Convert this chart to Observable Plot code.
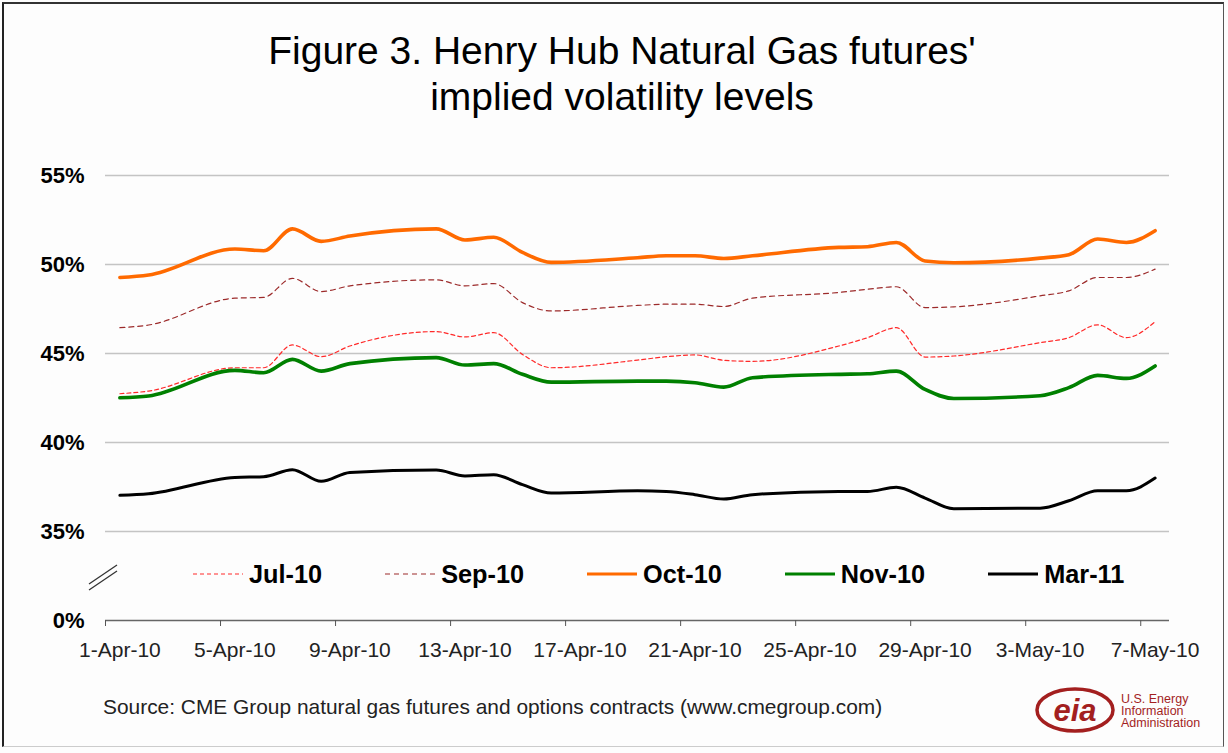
<!DOCTYPE html>
<html>
<head>
<meta charset="utf-8">
<script src="https://cdn.jsdelivr.net/npm/d3@7"></script>
<script src="https://cdn.jsdelivr.net/npm/@observablehq/plot@0.6"></script>
<style>
  body { margin: 0; background: #fff; font-family: "Liberation Sans", Arial, sans-serif; }
  #wrap { position: relative; width: 1228px; height: 753px; background: #fdfdfd; overflow: hidden; }
  #frame { position: absolute; left: 2px; top: 2px; width: 1219px; height: 742px;
           border-left: 2px solid #222; border-top: 2px solid #333; border-right: 1px solid #555; border-bottom: 1px solid #ccc; }
  #chart { position: absolute; left: 0; top: 0; }
  #title { position: absolute; left: 8px; top: 28px; width: 1228px; text-align: center;
           font-size: 39px; line-height: 46px; color: #000; }
  #legend { position: absolute; left: 193px; top: 559px; display: flex; gap: 63px; align-items: center; }
  .item { display: flex; align-items: center; gap: 6px; font-weight: bold; font-size: 25.3px; line-height: 30px; color: #000; }
  #source { position: absolute; left: 103px; top: 695px; font-size: 20.9px; line-height: 24px; color: #222; }
  .overlay { position: absolute; left: 0; top: 0; pointer-events: none; }
  svg [aria-label="y-axis tick label"] text { font-weight: bold; }
</style>
</head>
<body>
<div id="wrap">
  <div id="frame"></div>
  <div id="chart"></div>
  <div id="title">Figure 3. Henry Hub Natural Gas futures'<br>implied volatility levels</div>
  <div id="legend"></div>
  <div id="source">Source: CME Group natural gas futures and options contracts (www.cmegroup.com)</div>
  <svg class="overlay" width="1228" height="753">
    <g stroke="#333" stroke-width="1.3">
      <line x1="89" y1="584" x2="117" y2="565"></line>
      <line x1="89" y1="590" x2="117" y2="571"></line>
    </g>
    <g>
      <ellipse cx="1075" cy="710" rx="38" ry="21" fill="none" stroke="#a31f1f" stroke-width="3.5"></ellipse>
      <text x="1075" y="721" text-anchor="middle" font-family="Liberation Sans, Arial" font-weight="bold" font-style="italic" font-size="31" fill="#a31f1f">eia</text>
      <g font-family="Liberation Sans, Arial" font-size="12.5" fill="#a31f1f">
        <text x="1121" y="703">U.S. Energy</text>
        <text x="1121" y="715">Information</text>
        <text x="1121" y="727">Administration</text>
      </g>
    </g>
  </svg>
</div>
<script>
// ---- Data ----
const dates = ["2010-04-01","2010-04-02","2010-04-05","2010-04-06","2010-04-07","2010-04-08","2010-04-09",
  "2010-04-12","2010-04-13","2010-04-14","2010-04-15","2010-04-16",
  "2010-04-19","2010-04-20","2010-04-21","2010-04-22","2010-04-23",
  "2010-04-26","2010-04-27","2010-04-28","2010-04-29","2010-04-30",
  "2010-05-03","2010-05-04","2010-05-05","2010-05-06","2010-05-07"];

const jul10 = [42.74,42.89,44.20,44.20,45.48,44.82,45.42, 46.23,45.93,46.17,44.95,44.20, 44.63,44.82,44.92,44.62,44.56, 45.42,45.89,46.45,44.80,44.86, 45.61,45.89,46.61,45.89,46.79];
const sep10 = [46.45,46.60,48.11,48.15,49.22,48.48,48.80, 49.14,48.80,48.93,47.86,47.39, 47.70,47.77,47.77,47.64,48.11, 48.43,48.61,48.75,47.58,47.62, 48.24,48.52,49.27,49.27,49.74];
const oct10 = [49.27,49.41,50.87,50.77,52.00,51.30,51.60, 52.00,51.38,51.53,50.68,50.12, 50.38,50.49,50.49,50.34,50.49, 50.96,51.00,51.24,50.20,50.10, 50.36,50.55,51.43,51.24,51.90];
const nov10 = [42.51,42.61,44.05,43.92,44.67,44.01,44.43, 44.77,44.35,44.43,43.83,43.39, 43.45,43.45,43.36,43.11,43.64, 43.83,43.86,44.01,42.98,42.47, 42.63,43.08,43.77,43.60,44.30];
const mar11 = [37.03,37.12,38.04,38.08,38.47,37.82,38.32, 38.45,38.12,38.19,37.63,37.16, 37.29,37.25,37.07,36.82,37.07, 37.25,37.25,37.48,36.88,36.28, 36.31,36.73,37.29,37.29,38.00];

const seriesNames = ["Jul-10","Sep-10","Oct-10","Nov-10","Mar-11"];
const seriesValues = [jul10, sep10, oct10, nov10, mar11];

const yTicks = [30, 35, 40, 45, 50, 55];
const yTickLabels = ["0%", "35%", "40%", "45%", "50%", "55%"];
const xTickDates = ["2010-04-01","2010-04-05","2010-04-09","2010-04-13","2010-04-17","2010-04-21","2010-04-25","2010-04-29","2010-05-03","2010-05-07"];
const xTickLabels = ["1-Apr-10","5-Apr-10","9-Apr-10","13-Apr-10","17-Apr-10","21-Apr-10","25-Apr-10","29-Apr-10","3-May-10","7-May-10"];

// ---- Styles ----
const styles = {
  "Jul-10": {stroke: "#ff2a2a", width: 1.2, dash: "4,3"},
  "Sep-10": {stroke: "#9c2a2a", width: 1.2, dash: "5,4"},
  "Oct-10": {stroke: "#ff6a00", width: 3.6, dash: null},
  "Nov-10": {stroke: "#008000", width: 3.6, dash: null},
  "Mar-11": {stroke: "#000000", width: 3.0, dash: null}
};

const parse = d3.utcParse("%Y-%m-%d");
const noon = d => d3.utcHour.offset(parse(d), 12);

const rows = [];
seriesNames.forEach((s, i) => dates.forEach((d, j) => rows.push({series: s, date: noon(d), value: seriesValues[i][j]})));

const yLabel = new Map(yTicks.map((v, i) => [v, yTickLabels[i]]));
const xLabel = new Map(xTickDates.map((d, i) => [+noon(d), xTickLabels[i]]));

const chart = Plot.plot({
  width: 1228, height: 753,
  marginLeft: 105, marginRight: 59, marginTop: 175, marginBottom: 133,
  style: {background: "transparent", fontFamily: "Liberation Sans, Arial, sans-serif", color: "#000"},
  x: {type: "utc", domain: [parse("2010-04-01"), parse("2010-05-08")]},
  y: {domain: [30, 55]},
  marks: [
    Plot.ruleY(yTicks.filter(v => v > 30), {stroke: "#c4c4c4", strokeWidth: 1.5}),
    Plot.ruleY([30], {stroke: "#666", strokeWidth: 1.5}),
    Plot.axisX(xTickDates.map(parse), {tickSize: 6, tickFormat: () => "", stroke: "#555", label: null}),
    Plot.axisX(xTickDates.map(noon), {tickSize: 0, tickPadding: 22, tickFormat: d => xLabel.get(+d), fontSize: 21, fill: "#222", label: null}),
    Plot.axisY(yTicks, {tickSize: 0, tickPadding: 21, tickFormat: d => yLabel.get(d), fontSize: 22, fontWeight: "bold", fill: "#000", label: null}),
    ...seriesNames.map(s => Plot.line(rows.filter(r => r.series === s), {
      x: "date", y: "value", stroke: styles[s].stroke, strokeWidth: styles[s].width,
      strokeDasharray: styles[s].dash || undefined, curve: "monotone-x"
    }))
  ]
});
document.getElementById("chart").appendChild(chart);

// ---- Legend ----
const legend = document.getElementById("legend");
seriesNames.forEach(s => {
  const st = styles[s];
  const item = document.createElement("div");
  item.className = "item";
  item.innerHTML = `<svg width="50" height="10"><line x1="0" y1="5" x2="50" y2="5" stroke="${st.stroke}" stroke-width="${Math.min(st.width, 3.2)}" ${st.dash ? `stroke-dasharray="${st.dash}"` : ""}/></svg><span>${s}</span>`;
  legend.appendChild(item);
});
</script>
</body>
</html>
